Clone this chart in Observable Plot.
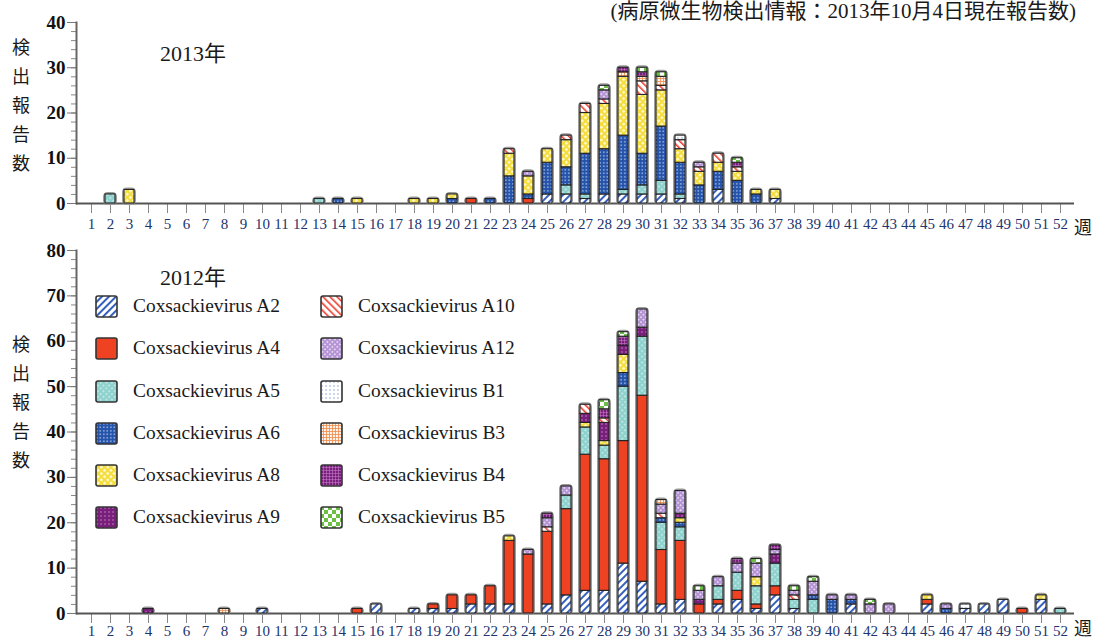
<!DOCTYPE html>
<html><head><meta charset="utf-8">
<script src="https://cdn.jsdelivr.net/npm/d3@7"></script>
<script src="https://cdn.jsdelivr.net/npm/@observablehq/plot@0.6"></script>
<style>
body{margin:0;width:1094px;height:640px;overflow:hidden;background:#fff;position:relative;font-family:"Liberation Serif","Noto Sans CJK JP",serif;color:#1a1a1a}
.abs{position:absolute}
.ylab{font-size:18px;line-height:29px;width:20px;text-align:center}
.year{font-size:22px}
.wk{font-size:18px;color:#1a1a1a}
#legend{display:grid;grid-template-columns:225px 260px;grid-template-rows:repeat(6,42.3px);grid-auto-flow:column}
#legend .item{display:flex;align-items:flex-start}
#legend .item span{font-size:19.4px;margin-left:14px;line-height:22px}
</style></head><body>
<svg width="0" height="0" style="position:absolute"><defs>
 <pattern id="pA2" width="5" height="5" patternUnits="userSpaceOnUse" patternTransform="rotate(45)"><rect width="5" height="5" fill="#fff"/><rect width="2" height="5" fill="#3560bd"/></pattern>
 <pattern id="pA4" width="4" height="4" patternUnits="userSpaceOnUse"><rect width="4" height="4" fill="#ee4222"/></pattern>
 <pattern id="pA5" width="4" height="4" patternUnits="userSpaceOnUse" patternTransform="rotate(45)"><rect width="4" height="4" fill="#8ed2ce"/><rect x="1.2" y="1.2" width="1.4" height="1.4" fill="#e8f7f6"/></pattern>
 <pattern id="pA6" width="3.5" height="3.5" patternUnits="userSpaceOnUse"><rect width="3.5" height="3.5" fill="#2453ab"/><rect x="1.2" y="1.2" width="1.2" height="1.2" fill="#e8eefa"/></pattern>
 <pattern id="pA8" width="4.5" height="4.5" patternUnits="userSpaceOnUse" patternTransform="rotate(45)"><rect width="4.5" height="4.5" fill="#f4dc3a"/><rect x="1" y="1" width="2.5" height="2.5" fill="#fff9d0"/></pattern>
 <pattern id="pA9" width="4" height="4" patternUnits="userSpaceOnUse"><rect width="4" height="4" fill="#7a1e7c"/><rect x="1.5" y="1.5" width="1" height="1" fill="#f0d8f0"/></pattern>
 <pattern id="pA10" width="5" height="5" patternUnits="userSpaceOnUse" patternTransform="rotate(-45)"><rect width="5" height="5" fill="#fff"/><rect width="1.6" height="5" fill="#ea3d2e"/></pattern>
 <pattern id="pA12" width="3.5" height="3.5" patternUnits="userSpaceOnUse" patternTransform="rotate(45)"><rect width="3.5" height="3.5" fill="#b493d4"/><rect x="1" y="1" width="1.5" height="1.5" fill="#f3ecfa"/></pattern>
 <pattern id="pB1" width="4" height="4" patternUnits="userSpaceOnUse"><rect width="4" height="4" fill="#fff"/><rect x="1.5" y="1.5" width="1" height="1" fill="#3560bd"/></pattern>
 <pattern id="pB3" width="3" height="3" patternUnits="userSpaceOnUse"><rect width="3" height="3" fill="#fff4ec"/><rect width="3" height="0.8" fill="#f08a48"/><rect width="0.8" height="3" fill="#f08a48"/></pattern>
 <pattern id="pB4" width="3" height="3" patternUnits="userSpaceOnUse"><rect width="3" height="3" fill="#7a1e7c"/><rect width="3" height="0.6" fill="#c07ac4"/><rect width="0.6" height="3" fill="#c07ac4"/></pattern>
 <pattern id="pB5" width="8" height="8" patternUnits="userSpaceOnUse"><rect width="8" height="8" fill="#fff"/><rect width="4" height="4" fill="#6cbf45"/><rect x="4" y="4" width="4" height="4" fill="#6cbf45"/></pattern>
</defs></svg>

<div class="abs" style="right:18px;top:-6px;font-size:21px;white-space:nowrap">(病原微生物検出情報：2013年10月4日現在報告数)</div>
<div id="top" class="abs" style="left:0;top:0"></div>
<div id="bot" class="abs" style="left:0;top:238px"></div>
<div class="abs year" style="left:160px;top:35px">2013年</div>
<div class="abs year" style="left:160px;top:259px">2012年</div>
<div class="abs ylab" style="left:11px;top:34px">検<br>出<br>報<br>告<br>数</div>
<div class="abs ylab" style="left:11px;top:331px">検<br>出<br>報<br>告<br>数</div>
<div class="abs wk" style="left:1074px;top:213px">週</div>
<div class="abs wk" style="left:1074px;top:614px">週</div>
<div id="legend" class="abs" style="left:95px;top:295px"></div>

<script>
const weeks = d3.range(1, 53);
const viruses = ["A2","A4","A5","A6","A8","A9","A10","A12","B1","B3","B4","B5"];
const legendLabels = viruses.map(v => "Coxsackievirus " + v);

// ---- 2013 (weeks 1..52) ----
const A2_2013  = [0,0,0,0,0,0,0,0,0,0, 0,0,0,0,0,0,0,0,0,0, 0,0,0,0,2,2,1,2,2,2, 2,1,0,3,0,0,1,0,0,0, 0,0,0,0,0,0,0,0,0,0, 0,0];
const A4_2013  = [0,0,0,0,0,0,0,0,0,0, 0,0,0,0,0,0,0,0,0,0, 1,0,0,1,0,0,0,0,0,0, 0,0,0,0,0,0,0,0,0,0, 0,0,0,0,0,0,0,0,0,0, 0,0];
const A5_2013  = [0,2,0,0,0,0,0,0,0,0, 0,0,1,0,0,0,0,0,0,0, 0,0,0,0,0,2,1,0,1,2, 3,1,0,0,0,0,0,0,0,0, 0,0,0,0,0,0,0,0,0,0, 0,0];
const A6_2013  = [0,0,0,0,0,0,0,0,0,0, 0,0,0,1,0,0,0,0,0,1, 0,1,6,1,7,4,9,10,12,7, 12,7,4,4,5,2,0,0,0,0, 0,0,0,0,0,0,0,0,0,0, 0,0];
const A8_2013  = [0,0,3,0,0,0,0,0,0,0, 0,0,0,0,1,0,0,1,1,1, 0,0,5,4,3,6,9,10,13,13, 8,3,3,2,2,1,2,0,0,0, 0,0,0,0,0,0,0,0,0,0, 0,0];
const A9_2013  = [0,0,0,0,0,0,0,0,0,0, 0,0,0,0,0,0,0,0,0,0, 0,0,0,0,0,0,0,0,0,0, 0,0,0,0,0,0,0,0,0,0, 0,0,0,0,0,0,0,0,0,0, 0,0];
const A10_2013 = [0,0,0,0,0,0,0,0,0,0, 0,0,0,0,0,0,0,0,0,0, 0,0,1,0,0,1,2,1,0,3, 1,2,1,2,1,0,0,0,0,0, 0,0,0,0,0,0,0,0,0,0, 0,0];
const A12_2013 = [0,0,0,0,0,0,0,0,0,0, 0,0,0,0,0,0,0,0,0,0, 0,0,0,1,0,0,0,2,0,0, 0,0,1,0,0,0,0,0,0,0, 0,0,0,0,0,0,0,0,0,0, 0,0];
const B1_2013  = [0,0,0,0,0,0,0,0,0,0, 0,0,0,0,0,0,0,0,0,0, 0,0,0,0,0,0,0,0,0,0, 0,1,0,0,0,0,0,0,0,0, 0,0,0,0,0,0,0,0,0,0, 0,0];
const B3_2013  = [0,0,0,0,0,0,0,0,0,0, 0,0,0,0,0,0,0,0,0,0, 0,0,0,0,0,0,0,0,1,1, 2,0,0,0,0,0,0,0,0,0, 0,0,0,0,0,0,0,0,0,0, 0,0];
const B4_2013  = [0,0,0,0,0,0,0,0,0,0, 0,0,0,0,0,0,0,0,0,0, 0,0,0,0,0,0,0,0,1,1, 0,0,0,0,1,0,0,0,0,0, 0,0,0,0,0,0,0,0,0,0, 0,0];
const B5_2013  = [0,0,0,0,0,0,0,0,0,0, 0,0,0,0,0,0,0,0,0,0, 0,0,0,0,0,0,0,1,0,1, 1,0,0,0,1,0,0,0,0,0, 0,0,0,0,0,0,0,0,0,0, 0,0];

// ---- 2012 (weeks 1..52) ----
const A2_2012  = [0,0,0,0,0,0,0,0,0,1, 0,0,0,0,0,2,0,1,1,1, 2,2,2,0,2,4,5,5,11,7, 2,3,0,2,3,1,4,1,0,0, 2,0,0,0,2,0,1,2,3,0, 3,0];
const A4_2012  = [0,0,0,0,0,0,0,0,0,0, 0,0,0,0,1,0,0,0,1,3, 2,4,14,13,16,19,30,29,27,41, 12,13,2,1,2,1,2,0,0,0, 0,0,0,0,1,0,0,0,0,1, 0,0];
const A5_2012  = [0,0,0,0,0,0,0,0,0,0, 0,0,0,0,0,0,0,0,0,0, 0,0,0,0,0,3,6,3,12,13, 6,3,0,3,4,4,5,2,3,0, 0,0,0,0,0,0,0,0,0,0, 0,1];
const A6_2012  = [0,0,0,0,0,0,0,0,0,0, 0,0,0,0,0,0,0,0,0,0, 0,0,0,0,0,0,0,0,3,0, 1,1,0,0,0,0,0,0,1,3, 1,0,0,0,0,1,0,0,0,0, 0,0];
const A8_2012  = [0,0,0,0,0,0,0,0,0,0, 0,0,0,0,0,0,0,0,0,0, 0,0,1,0,0,0,1,1,4,0, 0,1,0,0,0,2,0,0,0,0, 0,0,0,0,1,0,0,0,0,0, 1,0];
const A9_2012  = [0,0,0,1,0,0,0,0,0,0, 0,0,0,0,0,0,0,0,0,0, 0,0,0,0,0,0,2,4,2,2, 0,1,1,0,0,0,2,0,0,0, 0,0,0,0,0,0,0,0,0,0, 0,0];
const A10_2012 = [0,0,0,0,0,0,0,0,0,0, 0,0,0,0,0,0,0,0,0,0, 0,0,0,0,1,0,2,1,0,0, 1,0,0,0,0,0,0,1,0,0, 0,0,0,0,0,0,0,0,0,0, 0,0];
const A12_2012 = [0,0,0,0,0,0,0,0,0,0, 0,0,0,0,0,0,0,0,0,0, 0,0,0,1,2,2,0,0,0,4, 2,5,2,2,2,3,1,1,3,1, 1,2,2,0,0,1,0,0,0,0, 0,0];
const B1_2012  = [0,0,0,0,0,0,0,0,0,0, 0,0,0,0,0,0,0,0,0,0, 0,0,0,0,0,0,0,0,0,0, 0,0,0,0,0,0,0,0,0,0, 0,0,0,0,0,0,1,0,0,0, 0,0];
const B3_2012  = [0,0,0,0,0,0,0,1,0,0, 0,0,0,0,0,0,0,0,0,0, 0,0,0,0,0,0,0,0,0,0, 1,0,0,0,0,0,0,0,0,0, 0,0,0,0,0,0,0,0,0,0, 0,0];
const B4_2012  = [0,0,0,0,0,0,0,0,0,0, 0,0,0,0,0,0,0,0,0,0, 0,0,0,0,1,0,0,2,2,0, 0,0,0,0,1,0,1,0,0,0, 0,0,0,0,0,0,0,0,0,0, 0,0];
const B5_2012  = [0,0,0,0,0,0,0,0,0,0, 0,0,0,0,0,0,0,0,0,0, 0,0,0,0,0,0,0,2,1,0, 0,0,1,0,0,1,0,1,1,0, 0,1,0,0,0,0,0,0,0,0, 0,0];

const series2013 = [A2_2013,A4_2013,A5_2013,A6_2013,A8_2013,A9_2013,A10_2013,A12_2013,B1_2013,B3_2013,B4_2013,B5_2013];
const series2012 = [A2_2012,A4_2012,A5_2012,A6_2012,A8_2012,A9_2012,A10_2012,A12_2012,B1_2012,B3_2012,B4_2012,B5_2012];

function rows(series) {
  const out = [];
  viruses.forEach((v, i) => series[i].forEach((c, w) => { if (c > 0) out.push({week: weeks[w], virus: v, count: c}); }));
  return out;
}

const patternUrls = viruses.map(v => `url(#p${v})`);

function chart(data, {ymax, height, marginTop, marginBottom, pad}) {
  return Plot.plot({
    width: 1094, height, marginLeft: 76, marginRight: 20, marginTop, marginBottom,
    style: {fontFamily: '"Liberation Serif", serif', background: "transparent", overflow: "visible"},
    x: {type: "band", domain: weeks, paddingInner: 0.5, paddingOuter: 0.218, axis: null},
    y: {domain: [0, ymax], axis: null},
    color: {domain: viruses, range: patternUrls},
    marks: [
      Plot.axisY({ticks: d3.range(0, ymax + 1, 2), tickSize: 5, text: null, label: null, stroke: "#888"}),
      Plot.axisY({ticks: d3.range(0, ymax + 1, 10), tickSize: 9, tickPadding: 2, fontSize: 19, fill: "#111", stroke: "#777", fontWeight: "bold", label: null}),
      Plot.axisX({tickSize: 10, tickPadding: pad, fontSize: 15, fill: "#22336e", stroke: "#888", label: null}),
      Plot.frame({anchor: "left", stroke: "#666", strokeWidth: 2}),
      Plot.ruleY([0], {stroke: "#555", strokeWidth: 2}),
      Plot.barY(data, Plot.groupX({y: "sum"}, {x: "week", y: "count", fill: "none", stroke: "#9c9c9c", strokeWidth: 4, rx: 2.5})),
      Plot.barY(data, {x: "week", y: "count", fill: "virus", order: viruses, stroke: "#222", strokeWidth: 1.1})
    ]
  });
}

document.getElementById("top").append(chart(rows(series2013), {ymax: 40, height: 238, marginTop: 22, marginBottom: 35, pad: 5}));
document.getElementById("bot").append(chart(rows(series2012), {ymax: 80, height: 402, marginTop: 12, marginBottom: 27, pad: 2}));

// legend (column-first, 2 columns)
const leg = d3.select("#legend");
viruses.forEach((v, i) => {
  const it = leg.append("div").attr("class", "item");
  const s = it.append("svg").attr("width", 24).attr("height", 24);
  s.append("rect").attr("x", 1).attr("y", 1).attr("width", 21).attr("height", 21).attr("rx", 2)
    .attr("fill", patternUrls[i]).attr("stroke", "#333").attr("stroke-width", 1.6);
  it.append("span").text(legendLabels[i]);
});
</script>
</body></html>
